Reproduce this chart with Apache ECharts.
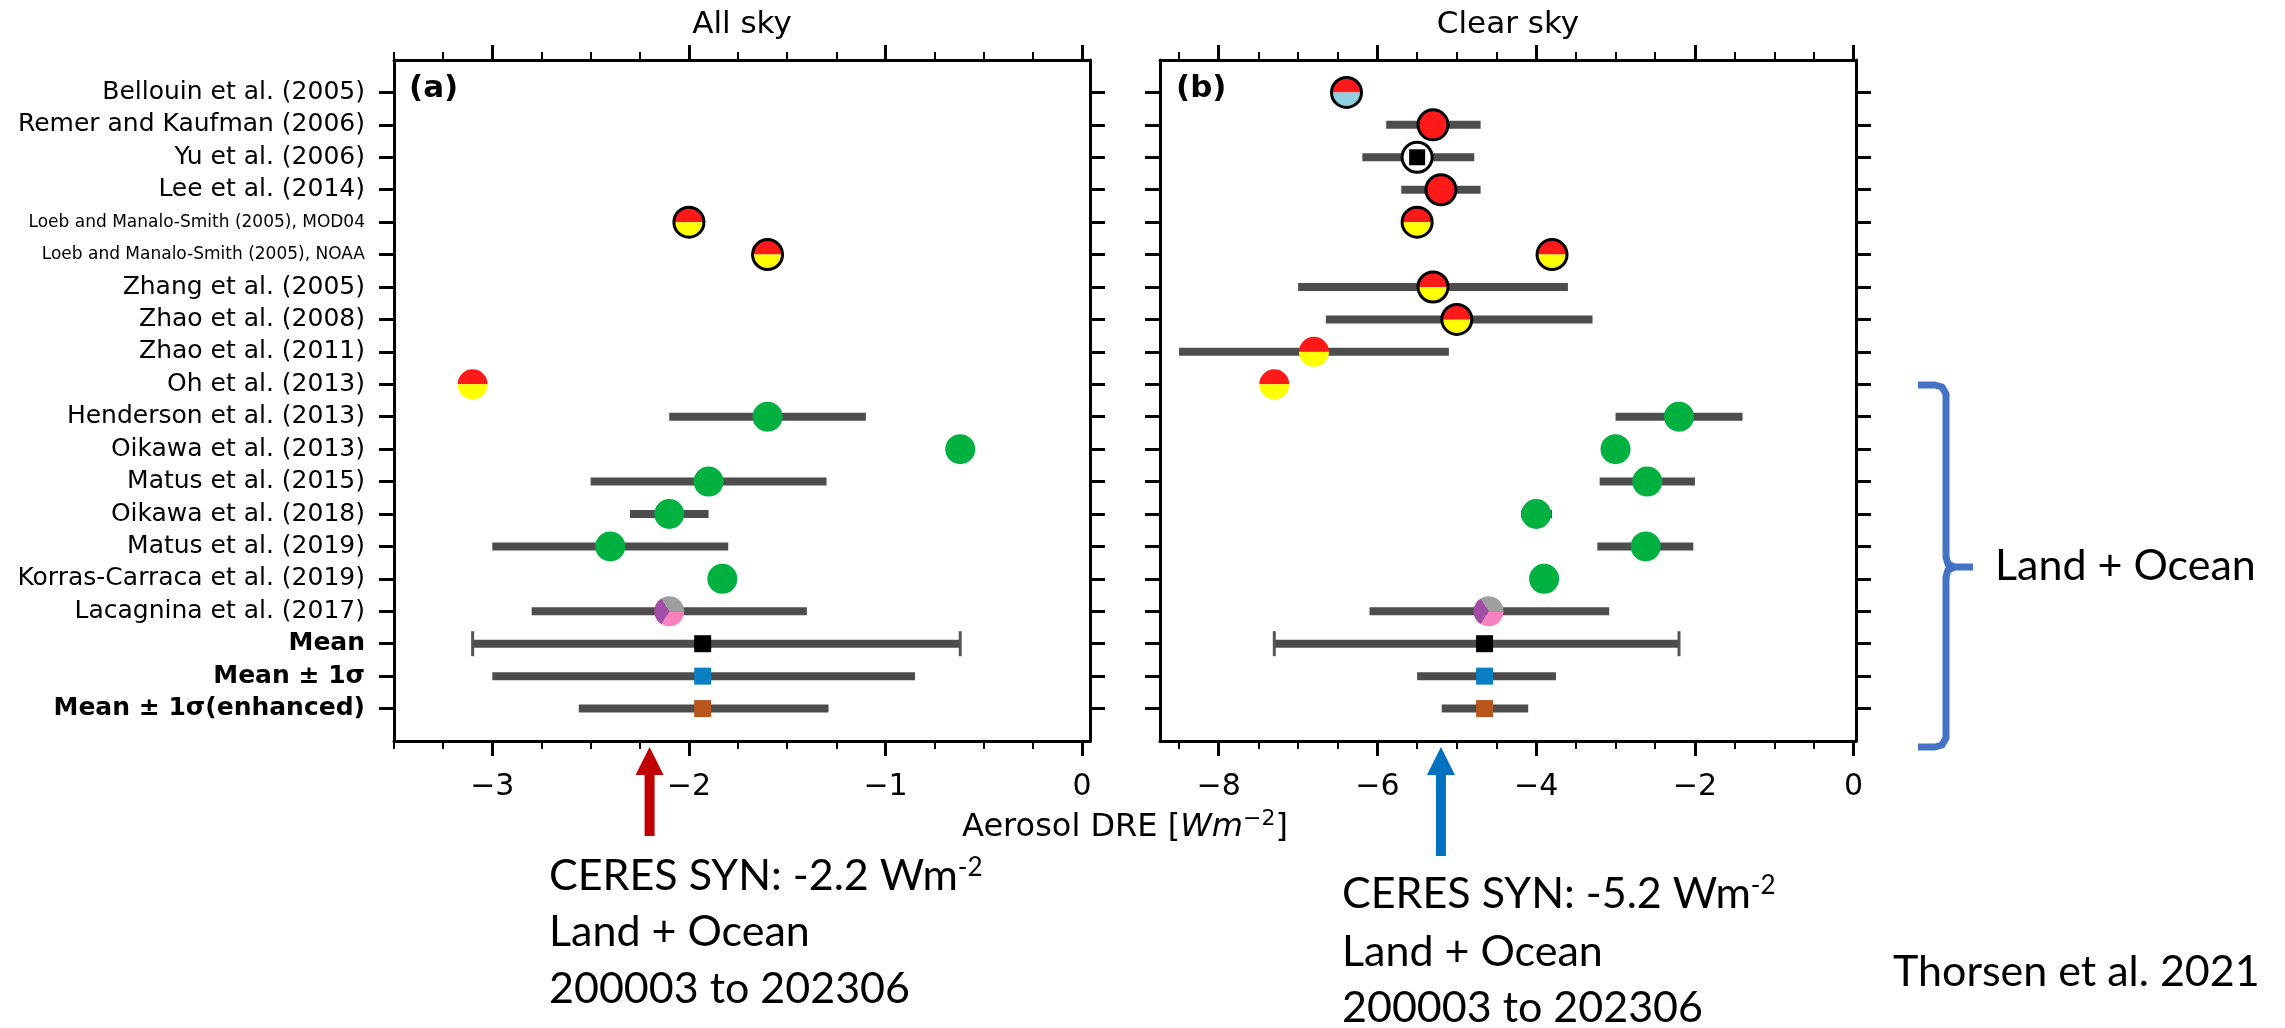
<!DOCTYPE html>
<html>
<head>
<meta charset="utf-8">
<script src="https://cdn.jsdelivr.net/npm/echarts@6/dist/echarts.min.js"></script>
<style>
html,body{margin:0;padding:0;background:#ffffff;}
#chart{width:2285px;height:1028px;}
</style>
</head>
<body>
<div id="chart"></div>
<script>
// ---------------- data ----------------
const studies = [
  'Bellouin et al. (2005)',
  'Remer and Kaufman (2006)',
  'Yu et al. (2006)',
  'Lee et al. (2014)',
  'Loeb and Manalo-Smith (2005), MOD04',
  'Loeb and Manalo-Smith (2005), NOAA',
  'Zhang et al. (2005)',
  'Zhao et al. (2008)',
  'Zhao et al. (2011)',
  'Oh et al. (2013)',
  'Henderson et al. (2013)',
  'Oikawa et al. (2013)',
  'Matus et al. (2015)',
  'Oikawa et al. (2018)',
  'Matus et al. (2019)',
  'Korras-Carraca et al. (2019)',
  'Lacagnina et al. (2017)',
  'Mean',
  'Mean ± 1σ',
  'Mean ± 1σ(enhanced)'
];
const rowTicks = [0,1,2,3,4,5,6,7,8,9,10,11,12,13,14,15,16,17,18,19];

// All sky (panel a)
const allSkyValue = [null,null,null,null,-2.0,-1.6,null,null,null,-3.1,-1.6,-0.62,-1.9,-2.1,-2.4,-1.83,-2.1,-1.93,-1.93,-1.93];
const allSkyLow   = [null,null,null,null,null,null,null,null,null,null,-2.1,null,-2.5,-2.3,-3.0,null,-2.8,-3.1,-3.0,-2.56];
const allSkyHigh  = [null,null,null,null,null,null,null,null,null,null,-1.1,null,-1.3,-1.9,-1.8,null,-1.4,-0.62,-0.85,-1.29];

// Clear sky (panel b)
const clearSkyValue = [-6.39,-5.3,-5.5,-5.2,-5.5,-3.8,-5.3,-5.0,-6.8,-7.3,-2.2,-3.0,-2.6,-4.0,-2.62,-3.9,-4.6,-4.65,-4.65,-4.65];
const clearSkyLow   = [null,-5.89,-6.19,-5.7,null,null,-7.0,-6.65,-8.5,null,-3.0,null,-3.2,-4.19,-3.23,null,-6.1,-7.3,-5.5,-5.19];
const clearSkyHigh  = [null,-4.7,-4.78,-4.7,null,null,-3.6,-3.29,-5.1,null,-1.4,null,-2.0,-3.8,-2.02,null,-3.08,-2.2,-3.75,-4.1];

// CERES SYN reference values
const ceresAllSky = -2.2;
const ceresClearSky = -5.2;

// tick labels / axis ranges
const allSkyMajorTicks = [-3,-2,-1,0];
const allSkyMinorTicks = [-3.5,-3.25,-3,-2.75,-2.5,-2.25,-2,-1.75,-1.5,-1.25,-1,-0.75,-0.5,-0.25,0];
const clearSkyMajorTicks = [-8,-6,-4,-2,0];
const clearSkyMinorTicks = [-8.5,-8,-7.5,-7,-6.5,-6,-5.5,-5,-4.5,-4,-3.5,-3,-2.5,-2,-1.5,-1,-0.5,0];
const allSkyRange = [-3.5, 0.04];
const clearSkyRange = [-8.74, 0.03];

// ---------------- styles ----------------
const labelKind = ['n','n','n','n','s','s','n','n','n','n','n','n','n','n','n','n','n','b','b','b'];
const rowMarker = ['redBlueEdge','redEdge','yuSquare','redEdge','redYellowEdge','redYellowEdge','redYellowEdge','redYellowEdge',
  'redYellow','redYellow','green','green','green','green','green','green','pie','meanSq','sigmaSq','enhSq'];
const COL = {red:'#ff1a1a', yellow:'#ffff00', lightBlue:'#8fcfe0', green:'#00b140',
  gray:'#9e9e9e', pink:'#f781bf', purple:'#a24ea6', black:'#000000', blue:'#0a7fc1', orange:'#b8561e', bar:'#4d4d4d'};

const GA = {left:394, top:60, width:696, height:681};
const GB = {left:1160, top:60, width:696, height:681};
const FONT = 'DejaVu Sans';
const NOTE_FONT = 'Lato';

const fmtMinus = v => (v < 0 ? '\u2212' + Math.abs(v) : String(v));

function xAxes(gridIndex, range, major, minor) {
  const base = {type:'value', gridIndex, min:range[0], max:range[1], splitLine:{show:false}, axisPointer:{show:false}};
  const line = {show:true, onZero:false, lineStyle:{color:'#000', width:3}};
  const noLine = {show:false, onZero:false};
  const majTick = {show:true, inside:false, length:15, customValues:major, lineStyle:{color:'#000', width:3}};
  const minTick = {show:true, inside:false, length:8, customValues:minor, lineStyle:{color:'#000', width:2}};
  return [
    Object.assign({}, base, {position:'bottom', axisLine:line, axisTick:majTick,
      axisLabel:{show:true, customValues:major, margin:31, fontSize:30, fontFamily:FONT, color:'#000', formatter:fmtMinus}}),
    Object.assign({}, base, {position:'bottom', axisLine:noLine, axisTick:minTick, axisLabel:{show:false}}),
    Object.assign({}, base, {position:'top', axisLine:line, axisTick:majTick, axisLabel:{show:false}}),
    Object.assign({}, base, {position:'top', axisLine:noLine, axisTick:minTick, axisLabel:{show:false}})
  ];
}

function yAxis(gridIndex, position, withLabels) {
  return {
    type:'value', gridIndex, position, inverse:true, min:-1, max:20,
    splitLine:{show:false}, axisPointer:{show:false},
    axisLine:{show:true, onZero:false, lineStyle:{color:'#000', width:3}},
    axisTick:{show:true, inside:false, length:15, customValues:rowTicks, lineStyle:{color:'#000', width:3}},
    axisLabel: withLabels ? {
      show:true, customValues:rowTicks, margin:29, color:'#000', fontFamily:FONT, fontSize:25,
      formatter: v => { const i = Math.round(v); return '{' + labelKind[i] + '|' + studies[i] + '}'; },
      rich: {
        n:{fontFamily:FONT, fontSize:25, color:'#000'},
        s:{fontFamily:FONT, fontSize:17, color:'#000'},
        b:{fontFamily:FONT, fontSize:25, fontWeight:'bold', color:'#000'}
      }
    } : {show:false}
  };
}

function barData(lo, hi) {
  const out = [];
  for (let i = 0; i < lo.length; i++) if (lo[i] != null && hi[i] != null) out.push([lo[i], i, hi[i]]);
  return out;
}
function pointData(vals) {
  const out = [];
  for (let i = 0; i < vals.length; i++) if (vals[i] != null) out.push([vals[i], i]);
  return out;
}

function renderBar(params, api) {
  const row = api.value(1);
  const a = api.coord([api.value(0), row]);
  const b = api.coord([api.value(2), row]);
  const ch = [{type:'rect', shape:{x:a[0], y:a[1]-4, width:b[0]-a[0], height:8}, style:{fill:COL.bar}}];
  if (rowMarker[row] === 'meanSq') {
    ch.push({type:'line', shape:{x1:a[0], y1:a[1]-12.5, x2:a[0], y2:a[1]+12.5}, style:{stroke:'#555', lineWidth:3}});
    ch.push({type:'line', shape:{x1:b[0], y1:b[1]-12.5, x2:b[0], y2:b[1]+12.5}, style:{stroke:'#555', lineWidth:3}});
  }
  return {type:'group', children:ch};
}

function renderMarker(params, api) {
  const row = api.value(1);
  const p = api.coord([api.value(0), row]);
  const cx = p[0], cy = p[1], r = 15;
  const PI = Math.PI;
  const sector = (a0, a1, fill) => ({type:'sector', shape:{cx, cy, r, r0:0, startAngle:a0, endAngle:a1, clockwise:true}, style:{fill}});
  const disc = fill => ({type:'circle', shape:{cx, cy, r}, style:{fill}});
  const edge = () => ({type:'circle', shape:{cx, cy, r}, style:{fill:'none', stroke:'#000', lineWidth:3}});
  const sq = (s, fill) => ({type:'rect', shape:{x:cx-s/2, y:cy-s/2, width:s, height:s}, style:{fill}});
  const ch = [];
  switch (rowMarker[row]) {
    case 'redBlueEdge': ch.push(sector(PI, 2*PI, COL.red), sector(0, PI, COL.lightBlue), edge()); break;
    case 'redEdge': ch.push(disc(COL.red), edge()); break;
    case 'yuSquare': ch.push(disc('#ffffff'), edge(), sq(16, '#000')); break;
    case 'redYellowEdge': ch.push(sector(PI, 2*PI, COL.red), sector(0, PI, COL.yellow), edge()); break;
    case 'redYellow': ch.push(sector(PI, 2*PI, COL.red), sector(0, PI, COL.yellow)); break;
    case 'green': ch.push(disc(COL.green)); break;
    case 'pie': ch.push(sector(0, 2*PI/3, COL.pink), sector(2*PI/3, 4*PI/3, COL.purple), sector(4*PI/3, 2*PI, COL.gray)); break;
    case 'meanSq': ch.push(sq(17, COL.black)); break;
    case 'sigmaSq': ch.push(sq(17, COL.blue)); break;
    case 'enhSq': ch.push(sq(17, COL.orange)); break;
  }
  return {type:'group', children:ch};
}

function arrowRender(color, shaftEnd) {
  return function (params, api) {
    const p = api.coord([api.value(0), 20]);
    const x = p[0], y0 = p[1];
    return {type:'group', children:[
      {type:'rect', shape:{x:x-5, y:y0+32, width:10, height:shaftEnd-32}, style:{fill:color}},
      {type:'polygon', shape:{points:[[x, y0+6],[x-14, y0+34],[x+14, y0+34]]}, style:{fill:color}}
    ]};
  };
}

const option = {
  animation:false,
  backgroundColor:'#ffffff',
  grid:[
    {left:GA.left, top:GA.top, width:GA.width, height:GA.height, containLabel:false},
    {left:GB.left, top:GB.top, width:GB.width, height:GB.height, containLabel:false}
  ],
  xAxis: [].concat(
    xAxes(0, allSkyRange, allSkyMajorTicks, allSkyMinorTicks),
    xAxes(1, clearSkyRange, clearSkyMajorTicks, clearSkyMinorTicks)
  ),
  yAxis:[ yAxis(0,'left',true), yAxis(0,'right',false), yAxis(1,'left',false), yAxis(1,'right',false) ],
  series:[
    {type:'custom', name:'allSkyBars', xAxisIndex:0, yAxisIndex:0, silent:true, z:2,
     data:barData(allSkyLow, allSkyHigh), encode:{x:[0,2], y:1}, renderItem:renderBar},
    {type:'custom', name:'allSkyPoints', xAxisIndex:0, yAxisIndex:0, silent:true, z:3,
     data:pointData(allSkyValue), encode:{x:0, y:1}, renderItem:renderMarker},
    {type:'custom', name:'allSkyCeres', xAxisIndex:0, yAxisIndex:0, silent:true, z:4, clip:false,
     data:[[ceresAllSky, 20]], encode:{x:0, y:1}, renderItem:arrowRender('#c00000', 95)},
    {type:'custom', name:'clearSkyBars', xAxisIndex:4, yAxisIndex:2, silent:true, z:2,
     data:barData(clearSkyLow, clearSkyHigh), encode:{x:[0,2], y:1}, renderItem:renderBar},
    {type:'custom', name:'clearSkyPoints', xAxisIndex:4, yAxisIndex:2, silent:true, z:3,
     data:pointData(clearSkyValue), encode:{x:0, y:1}, renderItem:renderMarker},
    {type:'custom', name:'clearSkyCeres', xAxisIndex:4, yAxisIndex:2, silent:true, z:4, clip:false,
     data:[[ceresClearSky, 20]], encode:{x:0, y:1}, renderItem:arrowRender('#0070c0', 115)}
  ],
  graphic:[
    {type:'text', x:GA.left+GA.width/2, y:25, style:{text:'All sky', fontFamily:FONT, fontSize:31, fill:'#000', align:'center', verticalAlign:'middle'}},
    {type:'text', x:GB.left+GB.width/2, y:25, style:{text:'Clear sky', fontFamily:FONT, fontSize:31, fill:'#000', align:'center', verticalAlign:'middle'}},
    {type:'text', x:GA.left+15, y:89, style:{text:'(a)', fontFamily:FONT, fontSize:31, fontWeight:'bold', fill:'#000', align:'left', verticalAlign:'middle'}},
    {type:'text', x:GB.left+16, y:89, style:{text:'(b)', fontFamily:FONT, fontSize:31, fontWeight:'bold', fill:'#000', align:'left', verticalAlign:'middle'}},
    {type:'text', x:(GA.left+GB.left+GB.width)/2, y:828, style:{
      text:'{n|Aerosol DRE [}{i|Wm}{sup|\u22122}{n|]}', align:'center', verticalAlign:'middle',
      rich:{
        n:{fontFamily:FONT, fontSize:32, lineHeight:40, fill:'#000', color:'#000'},
        i:{fontFamily:FONT, fontSize:32, lineHeight:40, fontStyle:'italic', fill:'#000', color:'#000'},
        sup:{fontFamily:FONT, fontSize:22, lineHeight:22, verticalAlign:'top', fill:'#000', color:'#000'}
      }}},
    // CERES annotations
    {type:'text', x:549, y:876, style:{text:'{t|CERES SYN: -2.2 Wm}{sup|-2}', align:'left', verticalAlign:'middle',
      rich:{t:{fontFamily:NOTE_FONT, fontSize:43, lineHeight:42, fill:'#000', color:'#000'},
            sup:{fontFamily:NOTE_FONT, fontSize:26, lineHeight:26, verticalAlign:'top', fill:'#000', color:'#000'}}}},
    {type:'text', x:549, y:932, style:{text:'Land + Ocean', fontFamily:NOTE_FONT, fontSize:43, fill:'#000', align:'left', verticalAlign:'middle'}},
    {type:'text', x:549, y:989, style:{text:'200003 to 202306', fontFamily:NOTE_FONT, fontSize:43, fill:'#000', align:'left', verticalAlign:'middle'}},
    {type:'text', x:1342, y:894, style:{text:'{t|CERES SYN: -5.2 Wm}{sup|-2}', align:'left', verticalAlign:'middle',
      rich:{t:{fontFamily:NOTE_FONT, fontSize:43, lineHeight:42, fill:'#000', color:'#000'},
            sup:{fontFamily:NOTE_FONT, fontSize:26, lineHeight:26, verticalAlign:'top', fill:'#000', color:'#000'}}}},
    {type:'text', x:1342, y:952, style:{text:'Land + Ocean', fontFamily:NOTE_FONT, fontSize:43, fill:'#000', align:'left', verticalAlign:'middle'}},
    {type:'text', x:1342, y:1008, style:{text:'200003 to 202306', fontFamily:NOTE_FONT, fontSize:43, fill:'#000', align:'left', verticalAlign:'middle'}},
    {type:'text', x:1995, y:566, style:{text:'Land + Ocean', fontFamily:NOTE_FONT, fontSize:43, fill:'#000', align:'left', verticalAlign:'middle'}},
    {type:'text', x:1893, y:972, style:{text:'Thorsen et al. 2021', fontFamily:NOTE_FONT, fontSize:43, fill:'#000', align:'left', verticalAlign:'middle'}},
    // bracket
    {type:'polyline', shape:{points:[[1918,385],[1935,385],[1942,387],[1946,394],[1946,557],[1948,564],[1954,567],[1973,567]]},
     style:{stroke:'#4472c4', lineWidth:7, fill:'none', lineJoin:'round'}},
    {type:'polyline', shape:{points:[[1954,567],[1948,570],[1946,577],[1946,738],[1942,745],[1935,747],[1918,747]]},
     style:{stroke:'#4472c4', lineWidth:7, fill:'none', lineJoin:'round'}}
  ]
};

const chart = echarts.init(document.getElementById('chart'), null, {renderer:'canvas'});
chart.setOption(option);
</script>
</body>
</html>
